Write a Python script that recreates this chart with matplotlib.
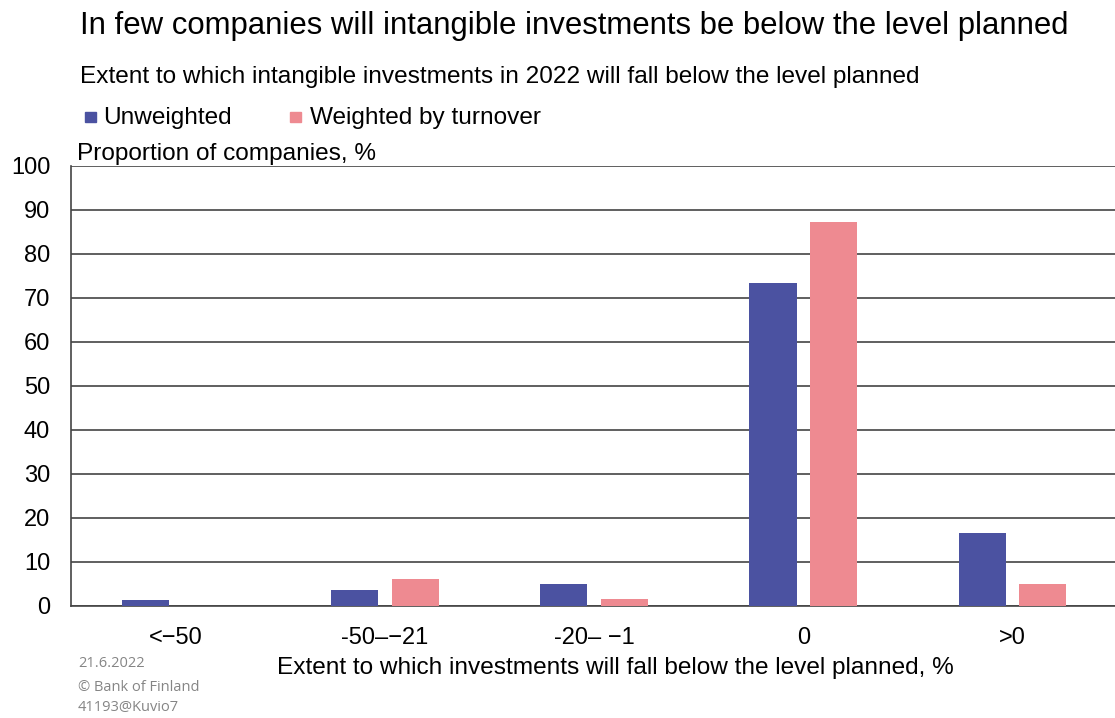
import matplotlib
matplotlib.use("Agg")
import matplotlib.pyplot as plt
import numpy as np
from matplotlib.patches import Rectangle

plt.rcParams["font.family"] = ["Liberation Sans", "DejaVu Sans"]

# Data
categories = ["<\u221250", "-50\u2013\u221221", "-20\u2013 \u22121", "0", ">0"]
unweighted = [1.3, 3.6, 5.0, 73.4, 16.6]
weighted = [0.0, 6.1, 1.6, 87.3, 5.0]

blue = "#4B52A1"
pink = "#EE8A91"
fs = 17
fs_txt = 17.6

fig = plt.figure(figsize=(11.15, 7.18), dpi=100)
ax = fig.add_axes([0.0637, 0.156, 0.9383, 0.613])

x = np.arange(len(categories))
w = 0.225
ax.bar(x - 0.145, unweighted, w, color=blue, zorder=3)
ax.bar(x + 0.145, weighted, w, color=pink, zorder=3)

ax.set_xlim(-0.5, 4.5)
ax.set_ylim(0, 100)
ax.set_yticks(range(0, 101, 10))
ax.yaxis.grid(True, color="#444444", linewidth=1.2, zorder=0)
ax.set_xticks(x)
ax.set_xticklabels(categories, fontsize=fs)
ax.tick_params(axis="y", labelsize=fs, length=0, pad=15)
ax.tick_params(axis="x", length=0, pad=15)
for s in ["top", "right"]:
    ax.spines[s].set_visible(False)
ax.spines["left"].set_color("#444444")
ax.spines["bottom"].set_color("#444444")
ax.spines["left"].set_linewidth(1.2)
ax.spines["bottom"].set_linewidth(1.2)

# x axis title (sits a bit right of the axes centre in the original)
fig.text(0.5515, 0.07, "Extent to which investments will fall below the level planned, %",
         fontsize=fs_txt, ha="center", va="center")

fig.text(0.072, 0.964, "In few companies will intangible investments be below the level planned",
         fontsize=22.4, va="center")
fig.text(0.072, 0.893, "Extent to which intangible investments in 2022 will fall below the level planned",
         fontsize=fs_txt, va="center")
fig.text(0.069, 0.786, "Proportion of companies, %", fontsize=fs_txt, va="center")

# legend
fig.patches.append(Rectangle((0.0765, 0.830), 0.0095, 0.0145, transform=fig.transFigure,
                             color=blue, figure=fig))
fig.text(0.0924, 0.836, "Unweighted", fontsize=fs_txt, va="center")
fig.patches.append(Rectangle((0.2605, 0.830), 0.0095, 0.0145, transform=fig.transFigure,
                             color=pink, figure=fig))
fig.text(0.278, 0.836, "Weighted by turnover", fontsize=fs_txt, va="center")

# footnote
foot = dict(fontsize=10.5, color="#858585", va="center", family=["Open Sans", "DejaVu Sans"])
fig.text(0.07, 0.076, "21.6.2022", **foot)
fig.text(0.07, 0.043, "\u00a9 Bank of Finland", **foot)
fig.text(0.07, 0.014, "41193@Kuvio7", **foot)

fig.savefig("out.png", dpi=100)
